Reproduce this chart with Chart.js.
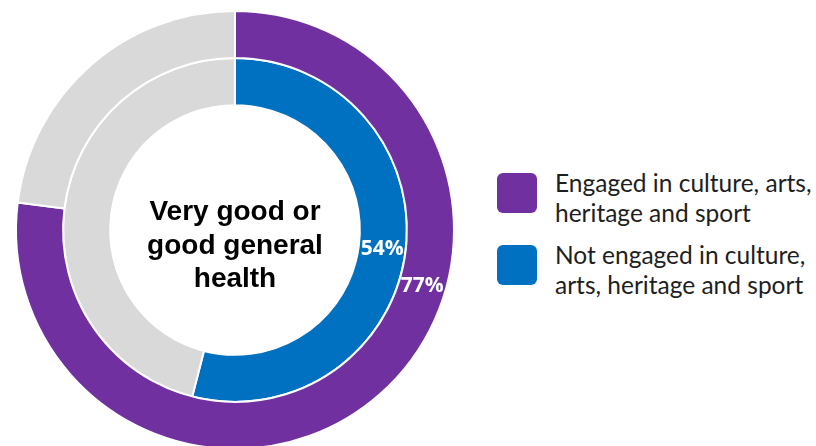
<!DOCTYPE html>
<html>
<head>
<meta charset="utf-8">
<script src="https://cdn.jsdelivr.net/npm/chart.js@4.4.0/dist/chart.umd.min.js"></script>
<style>
    html, body { margin: 0; padding: 0; width: 816px; height: 446px; overflow: hidden; background: #fff; }
    #wrap { position: absolute; left: 0; top: 0; width: 470px; height: 460px; }
    #legend { position: absolute; left: 497px; top: 0; font-family: Lato, sans-serif; font-size: 24.5px; line-height: 30px; color: #1e1e1e; }
    .item { position: absolute; left: 0; width: 320px; }
    .swatch { position: absolute; left: 0; top: 0; width: 40px; height: 40px; border-radius: 6px; }
    .label { position: absolute; left: 58px; top: -5px; white-space: nowrap; }
</style>
</head>
<body>
<div id="wrap"><canvas id="healthChart"></canvas></div>
<div id="legend"></div>

<script>
// Dados do gráfico
const groups = ['Engaged in culture, arts,\nheritage and sport', 'Not engaged in culture,\narts, heritage and sport'];
const healthShare = [77, 54];
const groupColors = ['#7030A0', '#0070C0'];
const restColor = '#D9D9D9';
const centerLines = ['Very good or', 'good general', 'health'];

// Rótulos de porcentagem (ângulo em graus a partir do topo)
const percentLabels = {
    id: 'percentLabels',
    afterDatasetsDraw(chart, args, opts) {
        const ctx = chart.ctx;
        ctx.save();
        ctx.fillStyle = '#fff';
        ctx.font = 'bold 21px "Open Sans", sans-serif';
        ctx.textAlign = 'center';
        ctx.textBaseline = 'middle';
        chart.data.datasets.forEach((ds, i) => {
            const arc = chart.getDatasetMeta(i).data[0];
            const p = arc.getProps(['x', 'y', 'innerRadius', 'outerRadius']);
            const r = (p.innerRadius + p.outerRadius) / 2;
            const a = (opts.angles[i] - 90) * Math.PI / 180;
            ctx.fillText(ds.data[0] + '%', p.x + r * Math.cos(a), p.y + r * Math.sin(a));
        });
        ctx.restore();
    }
};

// Texto central
const centerText = {
    id: 'centerText',
    afterDraw(chart) {
        const ctx = chart.ctx;
        const arc = chart.getDatasetMeta(0).data[0];
        ctx.save();
        ctx.fillStyle = '#000';
        ctx.font = 'bold 28px "Liberation Sans", Arial, sans-serif';
        ctx.textAlign = 'center';
        ctx.textBaseline = 'alphabetic';
        const lh = 33.5;
        const top = arc.y - 10;
        centerLines.forEach((line, i) => ctx.fillText(line, arc.x, top + i * lh));
        ctx.restore();
    }
};

const ctx = document.getElementById('healthChart').getContext('2d');
const chart = new Chart(ctx, {
    type: 'doughnut',
    data: {
        labels: ['Very good or good general health', 'Other'],
        datasets: healthShare.map((v, i) => ({
            label: groups[i].replace('\n', ' '),
            data: [v, 100 - v],
            backgroundColor: [groupColors[i], restColor],
            borderColor: '#fff',
            borderWidth: 2
        }))
    },
    options: {
        responsive: true,
        maintainAspectRatio: false,
        animation: false,
        radius: 219,
        cutout: '57%',
        layout: { padding: 0 },
        plugins: {
            legend: { display: false },
            tooltip: { enabled: false },
            percentLabels: { angles: [106.8, 97.5] }
        }
    },
    plugins: [percentLabels, centerText]
});

// Legenda em HTML
const legend = document.getElementById('legend');
groups.forEach((g, i) => {
    const item = document.createElement('div');
    item.className = 'item';
    item.style.top = (173 + i * 72) + 'px';
    item.innerHTML = '<div class="swatch" style="background:' + groupColors[i] + '"></div>' +
        '<div class="label">' + g.split('\n').join('<br>') + '</div>';
    legend.appendChild(item);
});
</script>
</body>
</html>
